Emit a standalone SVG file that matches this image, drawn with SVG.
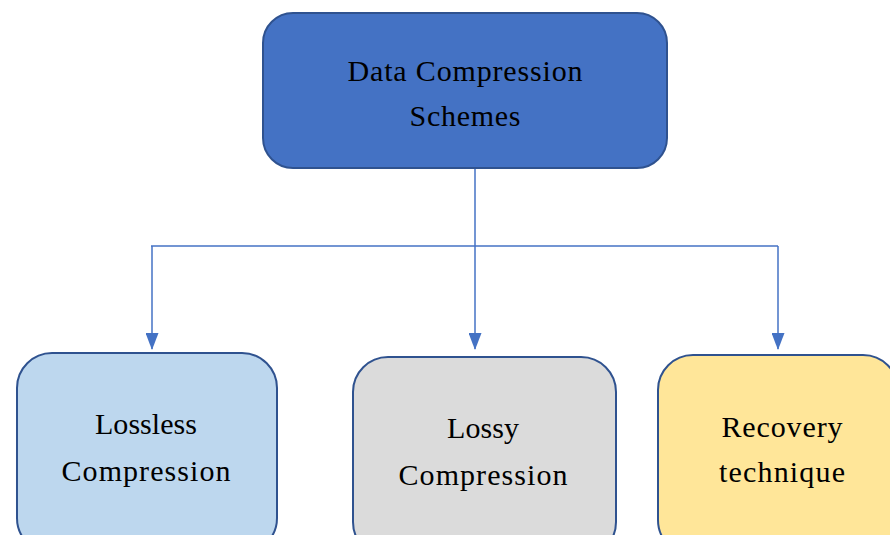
<svg xmlns="http://www.w3.org/2000/svg" width="890" height="535" viewBox="0 0 890 535">
<style>
.box{stroke:#2F528F;stroke-width:2}
.t{font-family:"Liberation Serif","DejaVu Serif",serif;font-size:30px;fill:#000;text-anchor:middle}
.c{fill:none;stroke:#4472C4;stroke-width:1.5}
</style>
<defs>
<marker id="ah" markerUnits="userSpaceOnUse" markerWidth="17" markerHeight="13" refX="16" refY="6.5" orient="auto" viewBox="0 0 17 13">
<path d="M0,0 L17,6.5 L0,13 Z" fill="#4472C4"/>
</marker>
</defs>
<rect width="890" height="535" fill="#fff"/>
<g id="connectors">
<path class="c" d="M475,168 V349" marker-end="url(#ah)"/>
<path class="c" d="M151,246 H778"/>
<path class="c" d="M152,246 V349" marker-end="url(#ah)"/>
<path class="c" d="M778,246 V349" marker-end="url(#ah)"/>
</g>
<g id="root">
<rect class="box" x="263" y="13" width="404" height="155" rx="30" fill="#4472C4"/>
<text class="t" x="465" y="81" textLength="235">Data Compression</text>
<text class="t" x="465" y="126" textLength="111">Schemes</text>
</g>
<g id="lossless">
<rect class="box" x="17" y="353" width="260" height="200" rx="35" fill="#BDD7EE"/>
<text class="t" x="146" y="434" textLength="102">Lossless</text>
<text class="t" x="146" y="481" textLength="169">Compression</text>
</g>
<g id="lossy">
<rect class="box" x="353" y="357" width="263" height="200" rx="35" fill="#DBDBDB"/>
<text class="t" x="483" y="438" textLength="72">Lossy</text>
<text class="t" x="483" y="485" textLength="169">Compression</text>
</g>
<g id="recovery">
<rect class="box" x="658" y="355" width="240" height="200" rx="35" fill="#FFE699"/>
<text class="t" x="782" y="437" textLength="121">Recovery</text>
<text class="t" x="782" y="482" textLength="126">technique</text>
</g>
</svg>
